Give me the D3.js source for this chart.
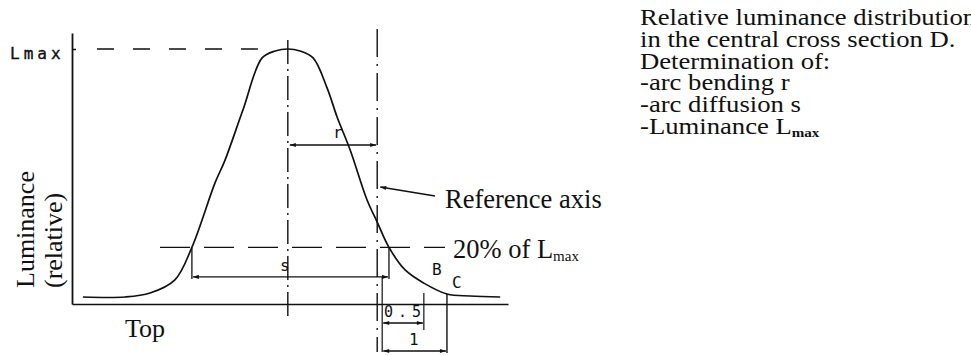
<!DOCTYPE html>
<html>
<head>
<meta charset="utf-8">
<script src="https://cdn.jsdelivr.net/npm/d3@7"></script>
<style>
  html, body { margin: 0; padding: 0; background: #ffffff; }
  svg { display: block; }
  .serif { font-family: "Liberation Serif", "Times New Roman", serif; fill: #111; }
  .mono { font-family: "DejaVu Sans Mono", monospace; fill: #111; }
</style>
</head>
<body>
<svg id="chart" width="971" height="356"></svg>
<script>
// Relative luminance profile across the arc (position in arbitrary units, luminance relative to Lmax)
const positions = [2.5, 12.2, 17.9, 23.6, 27.5, 32.8, 35.1, 39.2, 43.6, 46.6, 49.5, 52.3, 55.3, 58.5, 60.8, 63.8, 67.7, 70.0, 72.7, 76.4, 80.7, 86.0, 91.3, 98.2];
const luminance = [0.0, 0.0, 0.016, 0.069, 0.20, 0.46, 0.552, 0.754, 0.964, 0.992, 1.0, 0.992, 0.964, 0.843, 0.726, 0.593, 0.39, 0.302, 0.20, 0.109, 0.056, 0.012, 0.004, 0.0];

// Reference levels and construction positions
const levels = { lmax: 1.0, threshold: 0.2, rArrow: 0.613, sArrow: 0.081 };
const markers = { center: 49.5, reference: 70.0, left20: 27.5, right20: 72.7, pointB: 80.7, pointC: 86.0 };
const axisRange = { xMin: 0, xMax: 100, yMin: -0.0282, yMax: 1.0645 };

// Text blocks
const descriptionLines = [
  "Relative luminance distribution",
  "in the central cross section D.",
  "Determination of:",
  "-arc bending r",
  "-arc diffusion s",
  "-Luminance L"
];
const yLabelLines = ["Luminance", "(relative)"];

const svg = d3.select("#chart");
const ink = "#111";

const x = d3.scaleLinear().domain([axisRange.xMin, axisRange.xMax]).range([72, 508]);
const y = d3.scaleLinear().domain([axisRange.yMin, axisRange.yMax]).range([304, 33]);

// Arrowhead markers
const defs = svg.append("defs");
function arrowMarker(id, orient) {
  defs.append("marker")
    .attr("id", id)
    .attr("viewBox", "0 0 10 10")
    .attr("refX", 10).attr("refY", 5)
    .attr("markerWidth", 9).attr("markerHeight", 6)
    .attr("markerUnits", "userSpaceOnUse")
    .attr("orient", orient)
    .append("path").attr("d", "M0,1.5 L10,5 L0,8.5 Z").attr("fill", ink);
}
arrowMarker("arrowEnd", "auto");
arrowMarker("arrowStart", "auto-start-reverse");

// Axes
const yAxis = d3.axisLeft(y).tickValues([levels.lmax]).tickSize(-4).tickSizeOuter(0).tickFormat(() => "Lmax");
const gy = svg.append("g").attr("transform", `translate(${x(axisRange.xMin)},0)`).call(yAxis);
gy.select(".domain").attr("stroke", ink).attr("stroke-width", 1.8);
gy.selectAll(".tick line").attr("stroke", ink).attr("stroke-width", 1.5);
gy.selectAll(".tick text")
  .attr("class", "mono")
  .attr("x", -62).attr("dy", "0.6em")
  .attr("text-anchor", "start")
  .style("font-size", "16px")
  .style("letter-spacing", "4px")
  .attr("stroke", ink).attr("stroke-width", 0.4)
  .attr("fill", ink);

const xAxis = d3.axisBottom(x).tickValues([]).tickSizeOuter(0);
const gx = svg.append("g").attr("transform", `translate(0,${y(axisRange.yMin)})`).call(xAxis);
gx.select(".domain").attr("stroke", ink).attr("stroke-width", 1.6);

// Lmax dashed level
svg.append("line")
  .attr("x1", 97).attr("x2", 262)
  .attr("y1", y(levels.lmax)).attr("y2", y(levels.lmax))
  .attr("stroke", ink).attr("stroke-width", 1.4)
  .attr("stroke-dasharray", "17,19");

// 20% threshold dashed level
svg.append("line")
  .attr("x1", 160).attr("x2", 445)
  .attr("y1", y(levels.threshold)).attr("y2", y(levels.threshold))
  .attr("stroke", ink).attr("stroke-width", 1.4)
  .attr("stroke-dasharray", "30,14");

// Centre line of the profile (dash-dot)
svg.append("line")
  .attr("x1", x(markers.center)).attr("x2", x(markers.center))
  .attr("y1", 40).attr("y2", 320)
  .attr("stroke", ink).attr("stroke-width", 1.4)
  .attr("stroke-dasharray", "24,5,2,5");

// Reference axis (dash-dot)
svg.append("line")
  .attr("x1", x(markers.reference)).attr("x2", x(markers.reference))
  .attr("y1", 29).attr("y2", 352)
  .attr("stroke", ink).attr("stroke-width", 1.4)
  .attr("stroke-dasharray", "28,7,2,7");

// Luminance profile
const line = d3.line()
  .x((d, i) => x(positions[i]))
  .y(d => y(d))
  .curve(d3.curveCatmullRom.alpha(0.5));
svg.append("path")
  .datum(luminance)
  .attr("d", line)
  .attr("fill", "none")
  .attr("stroke", ink)
  .attr("stroke-width", 1.7)
  .attr("stroke-linejoin", "round");

// Arc bending r: centre line to reference axis
svg.append("line")
  .attr("x1", x(markers.center) + 2).attr("x2", x(markers.reference) - 1)
  .attr("y1", y(levels.rArrow)).attr("y2", y(levels.rArrow))
  .attr("stroke", ink).attr("stroke-width", 1.3)
  .attr("marker-start", "url(#arrowStart)")
  .attr("marker-end", "url(#arrowEnd)");
svg.append("text").attr("class", "mono")
  .attr("x", 333).attr("y", 138)
  .style("font-size", "16px").text("r");

// Arc diffusion s: width at 20% of Lmax
[markers.left20, markers.right20].forEach(v => {
  svg.append("line")
    .attr("x1", x(v)).attr("x2", x(v))
    .attr("y1", y(levels.threshold)).attr("y2", y(levels.sArrow) + 2)
    .attr("stroke", ink).attr("stroke-width", 1.3);
});
svg.append("line")
  .attr("x1", x(markers.left20) + 1).attr("x2", x(markers.right20) - 1)
  .attr("y1", y(levels.sArrow)).attr("y2", y(levels.sArrow))
  .attr("stroke", ink).attr("stroke-width", 1.4)
  .attr("marker-start", "url(#arrowStart)")
  .attr("marker-end", "url(#arrowEnd)");
svg.append("text").attr("class", "mono")
  .attr("x", 280).attr("y", 271)
  .style("font-size", "16px").text("s");

// Points B and C on the tail
const yBase = y(axisRange.yMin);
const refPx = x(markers.reference) + 5;
svg.append("line")
  .attr("x1", refPx).attr("x2", refPx)
  .attr("y1", y(levels.sArrow)).attr("y2", 352)
  .attr("stroke", ink).attr("stroke-width", 1.2);
svg.append("line")
  .attr("x1", x(markers.pointB)).attr("x2", x(markers.pointB))
  .attr("y1", y(luminance[positions.indexOf(markers.pointB)]) + 10).attr("y2", 330)
  .attr("stroke", ink).attr("stroke-width", 1.2);
svg.append("line")
  .attr("x1", x(markers.pointC)).attr("x2", x(markers.pointC))
  .attr("y1", y(luminance[positions.indexOf(markers.pointC)])).attr("y2", 353)
  .attr("stroke", ink).attr("stroke-width", 1.4);

svg.append("line")
  .attr("x1", refPx + 1).attr("x2", x(markers.pointB) - 1)
  .attr("y1", yBase + 19).attr("y2", yBase + 19)
  .attr("stroke", ink).attr("stroke-width", 1.3)
  .attr("marker-start", "url(#arrowStart)")
  .attr("marker-end", "url(#arrowEnd)");
svg.append("line")
  .attr("x1", refPx + 1).attr("x2", x(markers.pointC) - 1)
  .attr("y1", yBase + 47).attr("y2", yBase + 47)
  .attr("stroke", ink).attr("stroke-width", 1.3)
  .attr("marker-start", "url(#arrowStart)")
  .attr("marker-end", "url(#arrowEnd)");

svg.append("text").attr("class", "mono")
  .attr("x", 384).attr("y", 317)
  .style("font-size", "15px").style("letter-spacing", "5px").text("0.5");
svg.append("text").attr("class", "mono")
  .attr("x", 409).attr("y", 345)
  .style("font-size", "16px").text("1");
svg.append("text").attr("class", "mono")
  .attr("x", 432).attr("y", 275)
  .style("font-size", "16px").text("B");
svg.append("text").attr("class", "mono")
  .attr("x", 452).attr("y", 288)
  .style("font-size", "16px").text("C");

// Reference axis callout
svg.append("line")
  .attr("x1", 435).attr("y1", 196)
  .attr("x2", x(markers.reference) + 3).attr("y2", 187)
  .attr("stroke", ink).attr("stroke-width", 1.3)
  .attr("marker-end", "url(#arrowEnd)");
svg.append("text").attr("class", "serif")
  .attr("x", 445).attr("y", 208)
  .style("font-size", "26.5px").text("Reference axis");

// 20% of Lmax label
const t20 = svg.append("text").attr("class", "serif")
  .attr("x", 453).attr("y", 258)
  .style("font-size", "26.5px");
t20.append("tspan").text("20% of L");
t20.append("tspan").attr("dy", 3).style("font-size", "15px").text("max");

// Axis titles
svg.append("text").attr("class", "serif")
  .attr("x", 125).attr("y", 337)
  .style("font-size", "26px").text("Top");

svg.append("g")
  .attr("transform", "translate(0,288) rotate(-90)")
  .selectAll("text")
  .data(yLabelLines)
  .join("text")
  .attr("class", "serif")
  .attr("x", 0)
  .attr("y", (d, i) => 34 + i * 28)
  .style("font-size", "26px")
  .text(d => d);

// Description block (tight leading, slightly wide set)
const desc = svg.append("g");
descriptionLines.forEach((s, i) => {
  const t = desc.append("text").attr("class", "serif")
    .attr("transform", `translate(640,${25 + i * 21.8}) scale(1.16,1)`)
    .style("font-size", "23px");
  t.append("tspan").text(s);
  if (i === descriptionLines.length - 1) {
    t.append("tspan").attr("dy", 3).style("font-size", "13px").style("font-weight", "bold").text("max");
  }
});
</script>
</body>
</html>
